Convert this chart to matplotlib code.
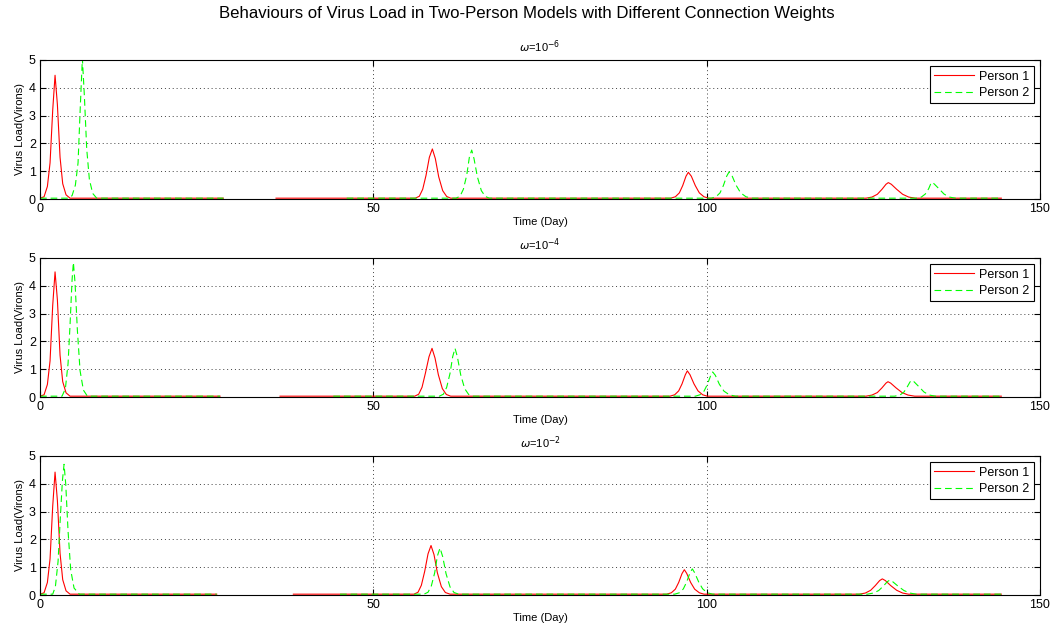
import numpy as np
import matplotlib
matplotlib.use("Agg")
import matplotlib.pyplot as plt

plt.rcParams["font.family"] = ["Liberation Sans", "DejaVu Sans"]

SUPTITLE = "Behaviours of Virus Load in Two-Person Models with Different Connection Weights"
PANEL_TITLES = [r"$\omega$=10$^{-6}$", r"$\omega$=10$^{-4}$", r"$\omega$=10$^{-2}$"]
X_TICKS = [0, 50, 100, 150]
Y_TICKS = [0, 1, 2, 3, 4, 5]
BASE = 0.03

# panel 1 : w = 1e-6
RED_PEAKS_1 = [
    ([0.0, 0.6, 1.1, 1.5, 1.9, 2.25, 2.6, 3.0, 3.4, 3.9, 4.5],
     [0.02, 0.08, 0.45, 1.3, 3.2, 4.45, 3.4, 1.5, 0.55, 0.15, 0.03]),
    ([56.3, 56.9, 57.4, 57.9, 58.4, 58.85, 59.3, 59.8, 60.4, 61.0, 61.6],
     [0.03, 0.1, 0.35, 0.85, 1.5, 1.8, 1.45, 0.8, 0.3, 0.09, 0.03]),
    ([94.6, 95.3, 95.9, 96.4, 96.9, 97.25, 97.7, 98.3, 98.9, 99.6, 100.3],
     [0.03, 0.08, 0.22, 0.48, 0.82, 0.96, 0.82, 0.48, 0.22, 0.08, 0.03]),
    ([123.9, 124.8, 125.6, 126.3, 126.9, 127.25, 127.7, 128.5, 129.4, 130.3, 131.3],
     [0.03, 0.07, 0.17, 0.35, 0.53, 0.59, 0.53, 0.35, 0.17, 0.07, 0.03]),
]
GREEN_PEAKS_1 = [
    ([4.2, 4.8, 5.3, 5.7, 6.05, 6.35, 6.65, 7.0, 7.4, 7.9, 8.5],
     [0.03, 0.12, 0.5, 1.3, 3.4, 5.05, 3.7, 1.8, 0.7, 0.2, 0.03]),
    ([62.4, 63.0, 63.5, 64.0, 64.4, 64.75, 65.1, 65.6, 66.2, 66.8, 67.4],
     [0.03, 0.1, 0.35, 0.85, 1.5, 1.76, 1.45, 0.8, 0.3, 0.09, 0.03]),
    ([100.7, 101.4, 102.0, 102.5, 103.0, 103.35, 103.8, 104.4, 105.1, 105.9, 106.8],
     [0.03, 0.08, 0.22, 0.48, 0.82, 0.97, 0.84, 0.5, 0.22, 0.08, 0.03]),
    ([131.4, 132.2, 132.8, 133.3, 133.6, 133.75, 134.1, 134.8, 135.6, 136.4, 137.3],
     [0.03, 0.07, 0.18, 0.37, 0.54, 0.6, 0.55, 0.38, 0.18, 0.07, 0.03]),
]
RED_SEGS_1 = [(0.0, 27.5), (35.4, 144.2)]
GREEN_SEGS_1 = [(0.0, 27.5), (46.0, 144.2)]

# panel 2 : w = 1e-4
RED_PEAKS_2 = [
    ([0.0, 0.6, 1.1, 1.5, 1.9, 2.25, 2.6, 3.0, 3.4, 3.9, 4.5],
     [0.02, 0.08, 0.45, 1.3, 3.3, 4.5, 3.5, 1.5, 0.55, 0.15, 0.03]),
    ([56.2, 56.8, 57.3, 57.8, 58.35, 58.8, 59.25, 59.75, 60.35, 60.95, 61.6],
     [0.03, 0.1, 0.35, 0.85, 1.45, 1.75, 1.4, 0.8, 0.3, 0.09, 0.03]),
    ([94.5, 95.2, 95.8, 96.3, 96.8, 97.1, 97.5, 98.1, 98.7, 99.4, 100.1],
     [0.03, 0.08, 0.22, 0.47, 0.8, 0.94, 0.8, 0.47, 0.22, 0.08, 0.03]),
    ([123.9, 124.8, 125.6, 126.3, 126.9, 127.2, 127.6, 128.4, 129.3, 130.2, 131.2],
     [0.03, 0.07, 0.16, 0.33, 0.5, 0.55, 0.5, 0.33, 0.16, 0.07, 0.03]),
]
GREEN_PEAKS_2 = [
    ([3.3, 3.8, 4.2, 4.5, 4.8, 5.0, 5.25, 5.6, 6.0, 6.5, 7.1],
     [0.03, 0.3, 1.2, 2.6, 4.2, 4.84, 4.1, 2.4, 0.95, 0.25, 0.03]),
    ([59.9, 60.5, 61.0, 61.5, 61.9, 62.25, 62.6, 63.1, 63.7, 64.3, 64.9],
     [0.03, 0.1, 0.35, 0.85, 1.45, 1.75, 1.45, 0.8, 0.3, 0.09, 0.03]),
    ([98.3, 99.0, 99.6, 100.1, 100.6, 100.9, 101.3, 101.9, 102.6, 103.4, 104.3],
     [0.03, 0.08, 0.21, 0.45, 0.77, 0.9, 0.78, 0.46, 0.21, 0.08, 0.03]),
    ([128.2, 129.0, 129.6, 130.1, 130.5, 130.75, 131.1, 131.8, 132.6, 133.4, 134.3],
     [0.03, 0.07, 0.18, 0.37, 0.54, 0.6, 0.55, 0.38, 0.18, 0.07, 0.03]),
]
RED_SEGS_2 = [(0.0, 27.0), (36.0, 144.2)]
GREEN_SEGS_2 = [(0.0, 27.0), (44.0, 144.2)]

# panel 3 : w = 1e-2
RED_PEAKS_3 = [
    ([0.0, 0.6, 1.1, 1.5, 1.9, 2.25, 2.6, 3.0, 3.4, 3.9, 4.5],
     [0.02, 0.08, 0.45, 1.3, 3.2, 4.42, 3.4, 1.5, 0.55, 0.15, 0.03]),
    ([56.1, 56.7, 57.2, 57.7, 58.2, 58.65, 59.1, 59.6, 60.2, 60.8, 61.5],
     [0.03, 0.1, 0.35, 0.85, 1.48, 1.78, 1.45, 0.8, 0.3, 0.09, 0.03]),
    ([94.0, 94.7, 95.3, 95.8, 96.3, 96.65, 97.0, 97.6, 98.2, 98.9, 99.6],
     [0.03, 0.08, 0.21, 0.45, 0.77, 0.91, 0.78, 0.45, 0.21, 0.08, 0.03]),
    ([122.9, 123.8, 124.6, 125.3, 125.95, 126.35, 126.8, 127.6, 128.5, 129.4, 130.3],
     [0.03, 0.07, 0.17, 0.34, 0.52, 0.58, 0.52, 0.34, 0.17, 0.07, 0.03]),
]
GREEN_PEAKS_3 = [
    ([1.9, 2.3, 2.7, 3.0, 3.35, 3.6, 3.85, 4.2, 4.6, 5.1, 5.9],
     [0.03, 0.3, 1.2, 2.6, 4.1, 4.7, 4.0, 2.3, 0.9, 0.25, 0.03]),
    ([57.6, 58.2, 58.7, 59.2, 59.6, 60.0, 60.4, 60.9, 61.5, 62.1, 62.8],
     [0.03, 0.1, 0.33, 0.8, 1.4, 1.69, 1.38, 0.77, 0.29, 0.09, 0.03]),
    ([95.2, 95.9, 96.5, 97.0, 97.5, 97.85, 98.2, 98.8, 99.4, 100.1, 100.9],
     [0.03, 0.08, 0.22, 0.47, 0.8, 0.94, 0.8, 0.47, 0.22, 0.08, 0.03]),
    ([124.1, 125.0, 125.8, 126.5, 127.1, 127.5, 127.9, 128.7, 129.6, 130.5, 131.4],
     [0.03, 0.07, 0.16, 0.32, 0.48, 0.54, 0.48, 0.32, 0.16, 0.07, 0.03]),
]
RED_SEGS_3 = [(0.0, 26.5), (38.0, 144.2)]
GREEN_SEGS_3 = [(0.0, 26.5), (45.0, 144.2)]


def build_series(peaks, segs):
    # join baseline segments and peak points, NaN between segments
    xs, ys = [], []
    for a, b in segs:
        pts = [(a, BASE), (b, BASE)]
        for d, v in peaks:
            pts += [(x, y) for x, y in zip(d, v) if a <= x <= b]
        pts.sort()
        xs += [p[0] for p in pts] + [np.nan]
        ys += [p[1] for p in pts] + [np.nan]
    return np.array(xs), np.array(ys)


panels = [
    (RED_PEAKS_1, RED_SEGS_1, GREEN_PEAKS_1, GREEN_SEGS_1),
    (RED_PEAKS_2, RED_SEGS_2, GREEN_PEAKS_2, GREEN_SEGS_2),
    (RED_PEAKS_3, RED_SEGS_3, GREEN_PEAKS_3, GREEN_SEGS_3),
]

fig = plt.figure(figsize=(10.54, 6.34), dpi=100)
fig.suptitle(SUPTITLE, fontsize=12.1, y=0.99)

tops = [0.9054, 0.5931, 0.2808]
height = 0.2193
for i, (rp, rs, gp, gs) in enumerate(panels):
    ax = fig.add_axes([0.038, tops[i] - height, 0.9487, height])
    rx, ry = build_series(rp, rs)
    gx, gy = build_series(gp, gs)
    ax.plot(rx, ry, color="#ff0000", lw=0.8, label="Person 1")
    ax.plot(gx, gy, color="#00ff00", lw=0.8, dashes=(6, 3.5), label="Person 2")
    ax.set_xlim(0, 150)
    ax.set_ylim(0, 5)
    ax.set_xticks(X_TICKS)
    ax.set_yticks(Y_TICKS)
    ax.tick_params(direction="in", length=4, width=0.8, labelsize=9,
                   top=True, right=True, pad=3)
    ax.grid(True, linestyle=(0, (1, 3)), color="#404040", lw=0.7)
    for s in ax.spines.values():
        s.set_linewidth(0.8)
    ax.set_title(PANEL_TITLES[i], fontsize=8, pad=6)
    ax.set_xlabel("Time (Day)", fontsize=8, labelpad=1)
    ax.set_ylabel("Virus Load(Virons)", fontsize=8, labelpad=3)
    leg = ax.legend(loc="upper right", fontsize=9, fancybox=False,
                    edgecolor="black", framealpha=1, handlelength=3.2,
                    handletextpad=0.4, borderaxespad=0.5, labelspacing=0.35,
                    borderpad=0.35)
    leg.get_frame().set_linewidth(0.8)

fig.savefig("out.png", dpi=100)
